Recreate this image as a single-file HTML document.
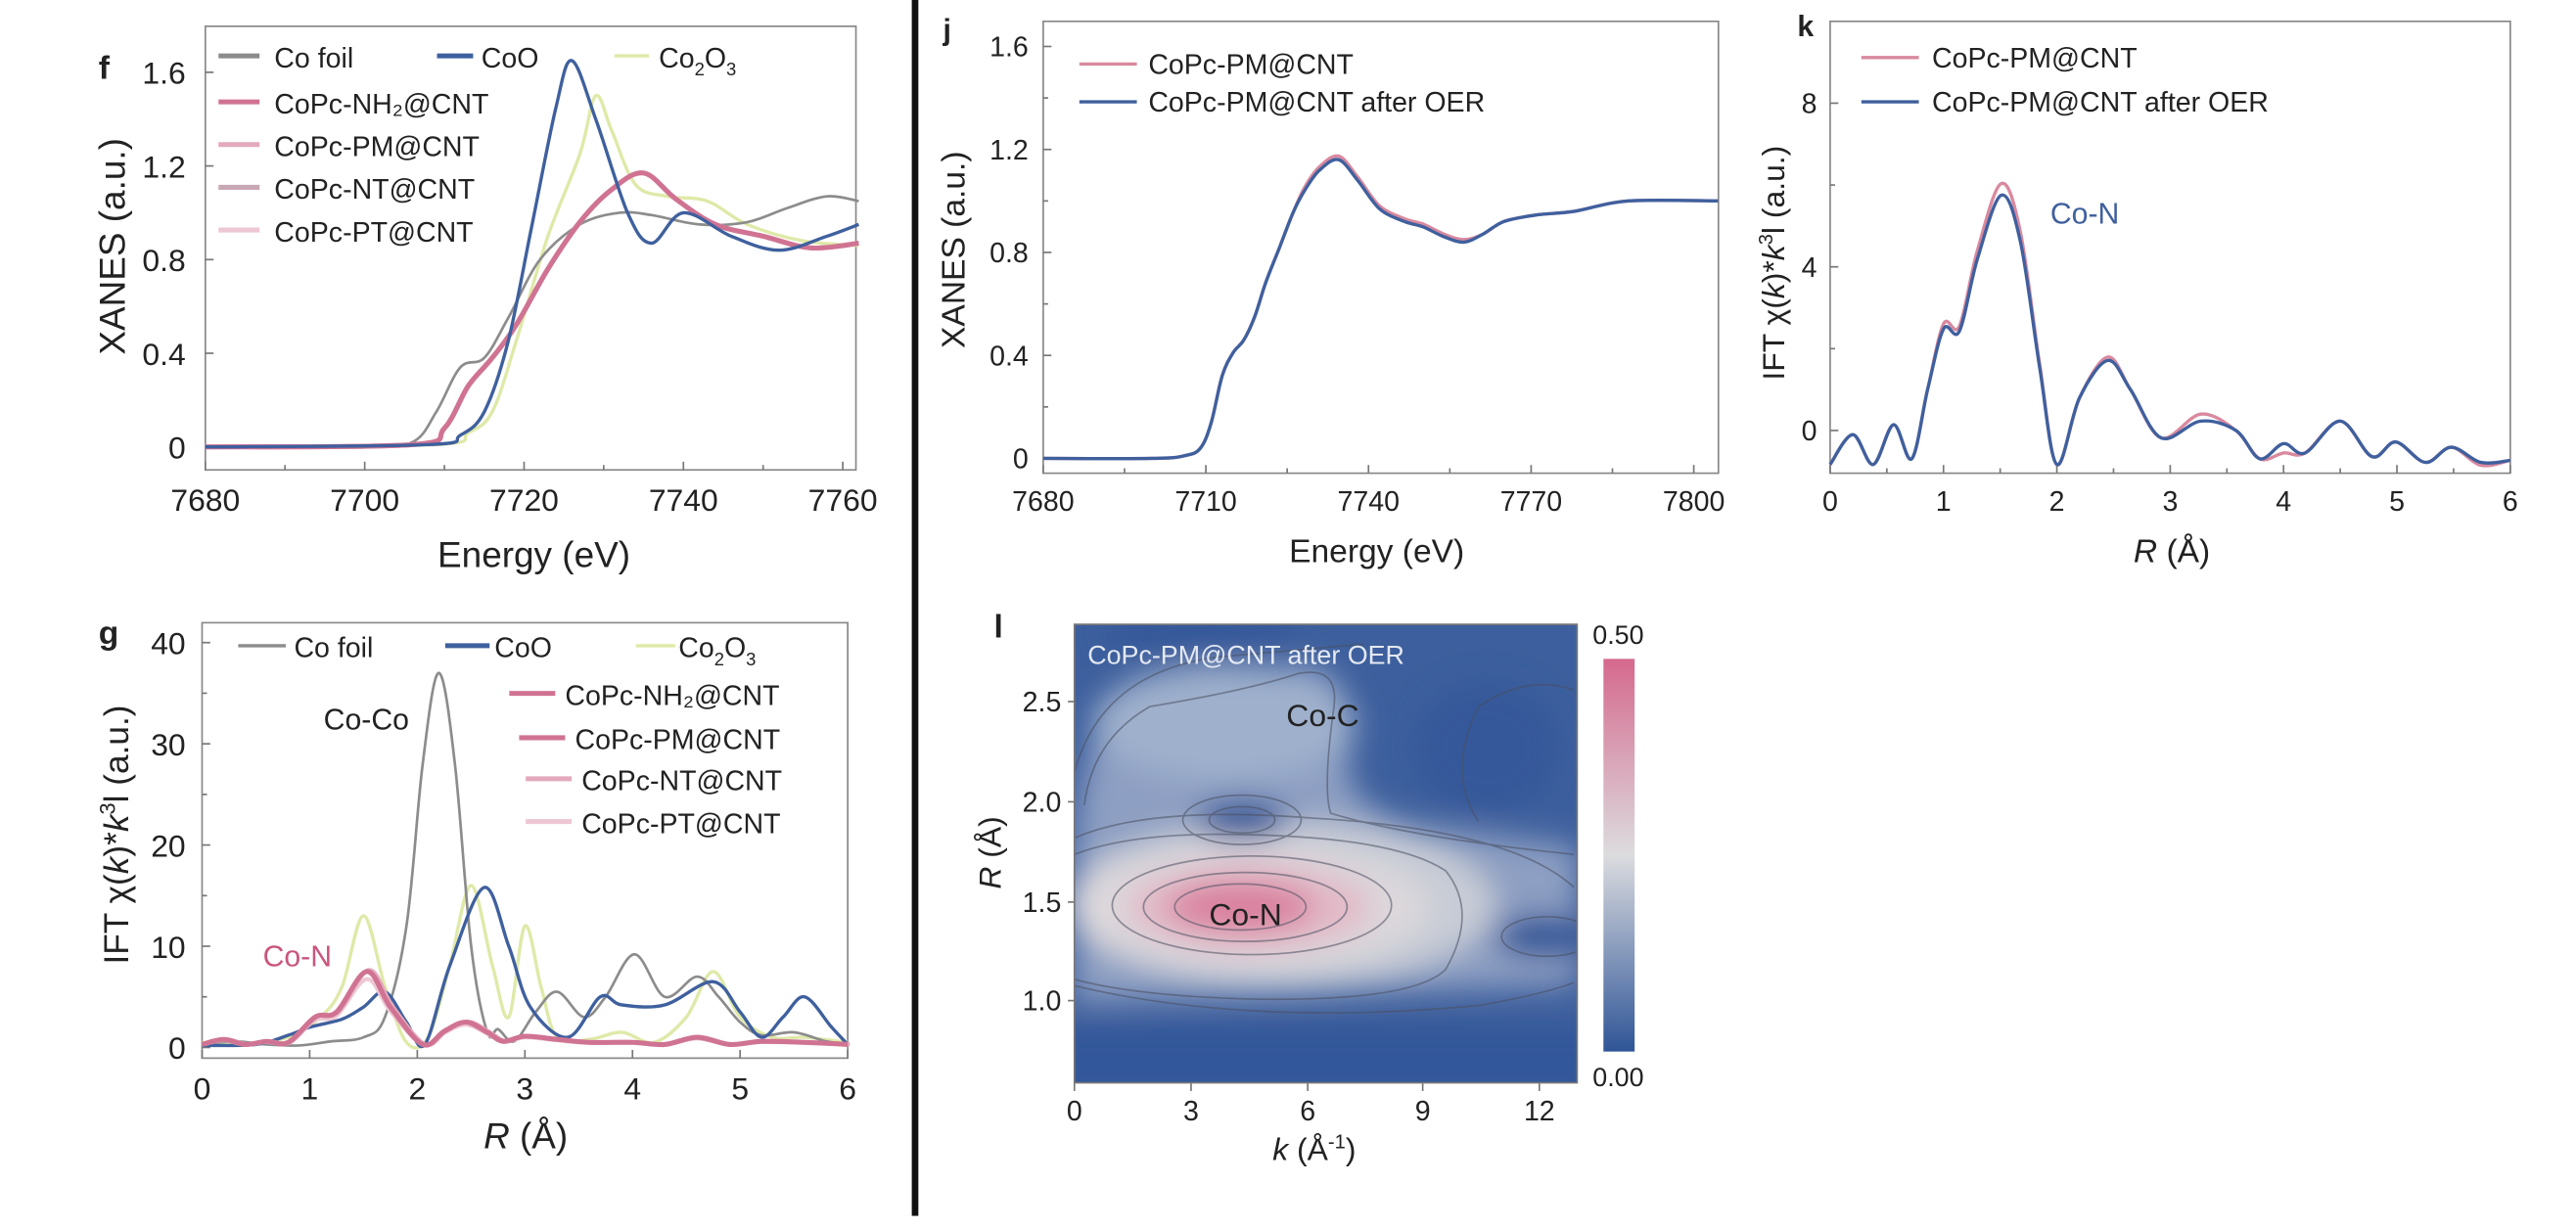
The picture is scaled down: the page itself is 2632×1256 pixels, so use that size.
<!DOCTYPE html>
<html><head><meta charset="utf-8">
<style>
html,body{margin:0;padding:0;background:#fff;}
svg{display:block;}
text{font-family:"Liberation Sans",sans-serif;fill:#222;}
</style></head>
<body>
<svg id="s" width="2632" height="1256" viewBox="0 0 1568 748" preserveAspectRatio="none" xmlns="http://www.w3.org/2000/svg">
<defs>
<filter id="bl" x="-20%" y="-20%" width="140%" height="140%"><feGaussianBlur stdDeviation="9"/></filter>
<clipPath id="cl"><rect x="654" y="380" width="306" height="279"/></clipPath>
<linearGradient id="cb" x1="0" y1="1" x2="0" y2="0">
<stop offset="0" stop-color="#2f5597"/><stop offset="0.5" stop-color="#dcdcdf"/><stop offset="1" stop-color="#d5698d"/>
</linearGradient>
</defs>
<rect width="1568" height="748" fill="#fff"/>
<rect x="555" y="0" width="4" height="740" fill="#111"/>

<g id="plots"></g>

<g clip-path="url(#cl)">
<rect x="654" y="380" width="306" height="279" fill="#3d5f9d"/>
<g filter="url(#bl)">
<path d="M654 520 Q660 420 700 410 L800 405 Q830 420 820 470 Q830 500 880 505 L960 515 L960 600 L654 610 Z" fill="#8d9fc2"/>
<ellipse cx="745" cy="440" rx="80" ry="35" fill="#9fb0cc"/>
<ellipse cx="780" cy="550" rx="130" ry="50" fill="#c8ccd6"/>
<ellipse cx="760" cy="552" rx="110" ry="38" fill="#dcd8dc"/>
<ellipse cx="760" cy="552" rx="75" ry="26" fill="#e2b9c7"/>
<ellipse cx="755" cy="552" rx="45" ry="16" fill="#d9809e"/>
<ellipse cx="756" cy="499" rx="28" ry="12" fill="#2f5597"/>
<ellipse cx="905" cy="455" rx="45" ry="40" fill="#34589a"/>
<ellipse cx="940" cy="570" rx="30" ry="13" fill="#2f5597"/>
<rect x="640" y="625" width="340" height="45" fill="#32579a"/>
<ellipse cx="730" cy="385" rx="60" ry="14" fill="#35599a"/>
</g>
<g fill="none" stroke="#4a4f60" stroke-width="1" opacity="0.55">
<ellipse cx="755" cy="552" rx="40" ry="14"/>
<ellipse cx="758" cy="552" rx="62" ry="21"/>
<ellipse cx="762" cy="551" rx="85" ry="30"/>
<path d="M654 520 Q690 506 760 508 Q850 510 880 530 Q900 555 880 590 Q860 610 760 608 Q690 606 654 596"/>
<path d="M654 510 Q700 490 800 498 Q920 505 958 540 M654 600 Q760 625 900 612 Q940 605 958 598"/>
<ellipse cx="756" cy="499" rx="36" ry="15"/>
<ellipse cx="756" cy="499" rx="20" ry="8"/>
<path d="M660 490 Q665 450 700 430 Q760 420 790 410 Q815 405 812 430 Q805 480 810 495 Q860 510 958 520"/>
<path d="M654 470 Q670 410 740 400 L830 392"/>
<path d="M900 500 Q880 470 900 430 Q930 410 958 420"/>
<ellipse cx="942" cy="570" rx="28" ry="12"/>
</g>
</g>
<rect x="654" y="380" width="306" height="279" fill="none" stroke="#777" stroke-width="1"/>
<text x="662" y="404" font-size="16" style="fill:#e4e9f3">CoPc-PM@CNT after OER</text>
<text x="783" y="442" font-size="19">Co-C</text>
<text x="736" y="563" font-size="19">Co-N</text>
<rect x="976" y="401" width="19" height="239" fill="url(#cb)"/>
<text x="985" y="392" font-size="16" text-anchor="middle">0.50</text>
<text x="985" y="661" font-size="16" text-anchor="middle">0.00</text>
<text x="605" y="388" font-size="20" font-weight="bold">l</text>
<g font-size="17" text-anchor="end">
<text x="646" y="433">2.5</text><text x="646" y="494">2.0</text><text x="646" y="555">1.5</text><text x="646" y="615">1.0</text>
</g>
<g stroke="#777" stroke-width="1">
<line x1="654" y1="427" x2="650" y2="427"/><line x1="654" y1="488" x2="650" y2="488"/><line x1="654" y1="549" x2="650" y2="549"/><line x1="654" y1="609" x2="650" y2="609"/>
<line x1="654" y1="659" x2="654" y2="664"/><line x1="725" y1="659" x2="725" y2="664"/><line x1="796" y1="659" x2="796" y2="664"/><line x1="866" y1="659" x2="866" y2="664"/><line x1="937" y1="659" x2="937" y2="664"/>
</g>
<g font-size="17" text-anchor="middle">
<text x="654" y="682">0</text><text x="725" y="682">3</text><text x="796" y="682">6</text><text x="866" y="682">9</text><text x="937" y="682">12</text>
</g>
<text x="800" y="706" font-size="19" text-anchor="middle"><tspan font-style="italic">k</tspan> (Å<tspan font-size="12" dy="-7">-1</tspan><tspan dy="7">)</tspan></text>
<text transform="translate(609,519) rotate(-90)" font-size="19" text-anchor="middle"><tspan font-style="italic">R</tspan> (Å)</text>
</svg>

<script>
(function(){
var NS="http://www.w3.org/2000/svg", G=document.getElementById("plots");
function el(t,a,txt){var e=document.createElementNS(NS,t);for(var k in a)e.setAttribute(k,a[k]);if(txt!==undefined)e.textContent=txt;G.appendChild(e);return e;}
function cr(pts){var d="M"+pts[0][0].toFixed(1)+" "+pts[0][1].toFixed(1);
 for(var i=0;i<pts.length-1;i++){var p0=pts[i-1]||pts[i],p1=pts[i],p2=pts[i+1],p3=pts[i+2]||p2;
 var c1=[p1[0]+(p2[0]-p0[0])/6,p1[1]+(p2[1]-p0[1])/6],c2=[p2[0]-(p3[0]-p1[0])/6,p2[1]-(p3[1]-p1[1])/6];
 d+="C"+c1[0].toFixed(1)+" "+c1[1].toFixed(1)+" "+c2[0].toFixed(1)+" "+c2[1].toFixed(1)+" "+p2[0].toFixed(1)+" "+p2[1].toFixed(1);}
 return d;}
function curve(data,fx,fy,col,w,op){var p=data.map(function(q){return [fx(q[0]),fy(q[1])];});
 el("path",{d:cr(p),fill:"none",stroke:col,"stroke-width":w,opacity:op||1,"stroke-linejoin":"round"});}
function txt(x,y,s,sz,extra){var a={x:x,y:y,"font-size":sz};for(var k in extra)a[k]=extra[k];return el("text",a,s);}
function line(x1,y1,x2,y2,c,w){el("line",{x1:x1,y1:y1,x2:x2,y2:y2,stroke:c,"stroke-width":w});}
var GR="#8c8c8c",BL="#3f609e",YG="#dfe9a8",PK="#d07393",PK2="#e3a9bd",PK3="#eec7d4";

/* ---------- Panel f ---------- */
var fx=function(E){return 125+(E-7680)*4.85;}, fy=function(v){return 272-v*142.5;};
el("rect",{x:125,y:16,width:396,height:270,fill:"none",stroke:"#888","stroke-width":1});
[0,0.4,0.8,1.2,1.6].forEach(function(v){line(125,fy(v),130,fy(v),"#777",1);txt(113,fy(v)+7,v===0?"0":v.toFixed(1),19,{"text-anchor":"end"});});
[7680,7700,7720,7740,7760].forEach(function(E){line(fx(E),286,fx(E),281,"#777",1);txt(fx(E),311,String(E),19,{"text-anchor":"middle"});});
[7690,7710,7730,7750].forEach(function(E){line(fx(E),286,fx(E),283,"#777",1);});
txt(325,345,"Energy (eV)",22,{"text-anchor":"middle"});
txt(0,0,"XANES (a.u.)",22,{"text-anchor":"middle",transform:"translate(76,150) rotate(-90)"});
txt(60,48,"f",20,{"font-weight":"bold"});
var foil=[[7680,0],[7700,0],[7706,0.02],[7709,0.15],[7712,0.34],[7715,0.38],[7718,0.55],[7722,0.8],[7727,0.95],[7732,1.0],[7736,0.99],[7742,0.95],[7748,0.96],[7753,1.02],[7758,1.07],[7762,1.05]];
var coo=[[7680,0],[7708,0.01],[7712,0.05],[7715,0.15],[7718,0.45],[7721,0.95],[7724,1.45],[7726,1.65],[7729,1.4],[7733,1.0],[7736,0.87],[7740,1.0],[7746,0.9],[7752,0.84],[7758,0.9],[7762,0.95]];
var c23=[[7680,0],[7709,0.01],[7713,0.06],[7716,0.15],[7719,0.45],[7723,0.9],[7727,1.25],[7729,1.5],[7731,1.35],[7734,1.12],[7738,1.07],[7743,1.05],[7748,0.95],[7755,0.88],[7762,0.86]];
var pc=[[7680,0],[7706,0.01],[7710,0.08],[7713,0.26],[7716,0.38],[7719,0.52],[7723,0.76],[7727,0.96],[7731,1.1],[7735,1.17],[7739,1.06],[7744,0.95],[7750,0.9],[7756,0.85],[7762,0.87]];
curve(c23,fx,fy,YG,2);curve(foil,fx,fy,GR,1.6);
curve(pc,fx,fy,PK3,3);curve(pc,fx,fy,PK2,3);curve(pc,fx,fy,PK,3);curve(coo,fx,fy,BL,2);
var lg=[[34,"Co foil",133,GR,167],[62,"CoPc-NH₂@CNT",133,PK,167],[88,"CoPc-PM@CNT",133,PK2,167],[114,"CoPc-NT@CNT",133,"#c8a8b4",167],[140,"CoPc-PT@CNT",133,PK3,167]];
lg.forEach(function(r){line(r[2],r[0],r[2]+25,r[0],r[3],3);txt(r[4],r[0]+7,r[1],17);});
line(266,34,288,34,BL,3);txt(293,41,"CoO",17);
line(374,34,395,34,YG,2);var t=txt(401,41,"Co",17);
t.innerHTML='Co<tspan font-size="11" dy="5">2</tspan><tspan dy="-5">O</tspan><tspan font-size="11" dy="5">3</tspan>';

/* ---------- Panel g ---------- */
var gx=function(R){return 123+R*65.5;}, gy=function(v){return 637.5-v*6.16;};
el("rect",{x:123,y:379,width:393,height:265,fill:"none",stroke:"#888","stroke-width":1});
[0,10,20,30,40].forEach(function(v){line(123,gy(v),128,gy(v),"#777",1);txt(113,gy(v)+7,String(v),19,{"text-anchor":"end"});});
[5,15,25,35].forEach(function(v){line(123,gy(v),126,gy(v),"#777",1);});
[0,1,2,3,4,5,6].forEach(function(R){line(gx(R),644,gx(R),639,"#777",1);txt(gx(R),669,String(R),19,{"text-anchor":"middle"});});
txt(320,699,"",22,{"text-anchor":"middle"}).innerHTML='<tspan font-style="italic">R</tspan> (Å)';
txt(0,0,"",21,{"text-anchor":"middle",transform:"translate(78,508) rotate(-90)"}).innerHTML='IFT χ(<tspan font-style="italic">k</tspan>)*<tspan font-style="italic">k</tspan><tspan font-size="13" dy="-8">3</tspan><tspan dy="8">l (a.u.)</tspan>';
txt(60,392,"g",20,{"font-weight":"bold"});
var gfoil=[[0,0.3],[0.3,0.6],[0.6,0.3],[0.9,0.2],[1.2,0.6],[1.5,1.0],[1.7,3],[1.9,12],[2.05,28],[2.2,37],[2.35,28],[2.5,10],[2.65,1.5],[2.75,1.8],[2.9,0.6],[3.1,3.5],[3.3,5.5],[3.55,3],[3.75,5],[4.02,9.2],[4.3,5],[4.6,7],[4.8,5],[5.0,2.5],[5.2,1.2],[5.5,1.5],[5.8,0.6],[6,0.3]];
var gcoo=[[0,0.2],[0.5,0.3],[0.8,1.2],[1.0,2],[1.3,2.8],[1.5,4],[1.7,5.5],[1.9,2.5],[2.07,0.3],[2.3,8],[2.62,15.8],[2.85,10],[3.05,4],[3.4,1],[3.7,5],[3.9,4.2],[4.3,4.2],[4.75,6.5],[5.0,3.5],[5.2,1],[5.4,3],[5.6,5],[5.85,2],[6,0.3]];
var gc23=[[0,0.5],[0.4,0.3],[0.8,1],[1.1,3],[1.3,6],[1.5,13],[1.7,6],[1.9,0.5],[2.1,1],[2.3,8],[2.5,16],[2.7,8],[2.85,3],[3.0,12],[3.15,6],[3.3,1],[3.6,0.8],[3.9,1.5],[4.2,0.5],[4.5,3],[4.75,7.5],[5.0,3],[5.3,1],[5.6,1],[6,0.5]];
var gpc=[[0,0.3],[0.2,0.8],[0.4,0.3],[0.6,0.6],[0.8,0.5],[1.05,3],[1.25,3.5],[1.53,7.5],[1.75,4],[2.05,0.3],[2.25,1.6],[2.45,2.5],[2.65,1.5],[2.8,0.6],[3.0,1.1],[3.3,0.8],[3.6,0.5],[4.0,0.5],[4.3,0.3],[4.6,1.0],[4.9,0.3],[5.2,0.6],[5.6,0.5],[6,0.3]];
curve(gc23,gx,gy,YG,2);curve(gfoil,gx,gy,GR,1.6);curve(gcoo,gx,gy,BL,2);
curve(gpc.map(function(q){return [q[0],q[1]*0.9];}),gx,gy,PK3,2.5);
curve(gpc.map(function(q){return [q[0]+0.02,q[1]*1.02];}),gx,gy,PK2,2.5);
curve(gpc,gx,gy,PK,3);
line(145,393,174,393,GR,2);txt(179,400,"Co foil",17);
line(271,393,298,393,BL,3);txt(301,400,"CoO",17);
line(387,393,411,393,YG,2);txt(413,400,"",17).innerHTML='Co<tspan font-size="11" dy="5">2</tspan><tspan dy="-5">O</tspan><tspan font-size="11" dy="5">3</tspan>';
[[422,"CoPc-NH₂@CNT",PK,310],[449,"CoPc-PM@CNT",PK,316],[474,"CoPc-NT@CNT",PK2,320],[500,"CoPc-PT@CNT",PK3,320]].forEach(function(r){line(r[3],r[0],r[3]+28,r[0],r[2],3);txt(r[3]+34,r[0]+7,r[1],17);});
txt(197,444,"Co-Co",18);
txt(160,588,"Co-N",18,{style:"fill:#c9557e"});

/* ---------- Panel j ---------- */
var jx=function(E){return 635+(E-7680)*3.3;}, jy=function(v){return 279-v*156.7;};
el("rect",{x:635,y:13,width:411,height:275,fill:"none",stroke:"#888","stroke-width":1});
[0,0.4,0.8,1.2,1.6].forEach(function(v){line(635,jy(v),640,jy(v),"#777",1);txt(626,jy(v)+6,v===0?"0":v.toFixed(1),17,{"text-anchor":"end"});});
[0.2,0.6,1.0,1.4].forEach(function(v){line(635,jy(v),638,jy(v),"#777",1);});
[7680,7710,7740,7770,7800].forEach(function(E){line(jx(E),288,jx(E),283,"#777",1);txt(jx(E),311,String(E),17,{"text-anchor":"middle"});});
[7695,7725,7755,7785].forEach(function(E){line(jx(E),288,jx(E),285,"#777",1);});
txt(838,342,"Energy (eV)",20,{"text-anchor":"middle"});
txt(0,0,"XANES (a.u.)",20,{"text-anchor":"middle",transform:"translate(587,152) rotate(-90)"});
txt(574,24,"j",18,{"font-weight":"bold"});
var jd=[[7680,0],[7700,0],[7706,0.01],[7709,0.04],[7711,0.14],[7713,0.32],[7715,0.41],[7717,0.46],[7719,0.55],[7721,0.68],[7723.6,0.82],[7726,0.95],[7728.2,1.04],[7731,1.12],[7734.5,1.16],[7738,1.08],[7742,0.97],[7746.6,0.92],[7750,0.9],[7754,0.86],[7757.6,0.84],[7761,0.87],[7765,0.92],[7770.8,0.945],[7778,0.96],[7788,1.0],[7804.5,1.0]];
curve(jd.map(function(q){return [q[0],q[0]>7726&&q[0]<7760?q[1]*1.012:q[1]];}),jx,jy,"#d9899f",2);
curve(jd,jx,jy,BL,2);
line(657,39,692,39,"#d9899f",2);txt(699,45,"CoPc-PM@CNT",17);
line(657,62,692,62,BL,2);txt(699,68,"CoPc-PM@CNT after OER",17);

/* ---------- Panel k ---------- */
var kx=function(R){return 1114+R*69;}, ky=function(v){return 262-v*24.9;};
el("rect",{x:1114,y:13,width:414,height:275,fill:"none",stroke:"#888","stroke-width":1});
[0,4,8].forEach(function(v){line(1114,ky(v),1119,ky(v),"#777",1);txt(1106,ky(v)+6,String(v),17,{"text-anchor":"end"});});
[2,6].forEach(function(v){line(1114,ky(v),1117,ky(v),"#777",1);});
[0,1,2,3,4,5,6].forEach(function(R){line(kx(R),288,kx(R),283,"#777",1);txt(kx(R),311,String(R),17,{"text-anchor":"middle"});});
[0.5,1.5,2.5,3.5,4.5,5.5].forEach(function(R){line(kx(R),288,kx(R),285,"#777",1);});
txt(1322,342,"",20,{"text-anchor":"middle"}).innerHTML='<tspan font-style="italic">R</tspan> (Å)';
txt(0,0,"",19,{"text-anchor":"middle",transform:"translate(1086,160) rotate(-90)"}).innerHTML='IFT χ(<tspan font-style="italic">k</tspan>)*<tspan font-style="italic">k</tspan><tspan font-size="12" dy="-7">3</tspan><tspan dy="7">l (a.u.)</tspan>';
txt(1094,22,"k",18,{"font-weight":"bold"});
var kd=[[0,-0.83],[0.2,-0.1],[0.38,-0.83],[0.56,0.14],[0.72,-0.69],[0.86,1.0],[1.0,2.48],[1.14,2.43],[1.3,4.2],[1.51,5.75],[1.68,4.6],[1.85,1.5],[2.0,-0.83],[2.2,0.8],[2.45,1.71],[2.65,1.0],[2.92,-0.18],[3.27,0.23],[3.58,0],[3.79,-0.69],[4.0,-0.32],[4.19,-0.55],[4.5,0.23],[4.78,-0.64],[4.99,-0.28],[5.25,-0.78],[5.48,-0.41],[5.74,-0.78],[6,-0.73]];
var kp=kd.map(function(q){var v=q[1];if(v>1)v=v*1.05;if(Math.abs(q[0]-3.27)<0.01)v=0.4;if(Math.abs(q[0]-4.0)<0.01)v=-0.55;if(Math.abs(q[0]-5.74)<0.01)v=-0.85;return [q[0],v];});
curve(kp,kx,ky,"#d9899f",2);
curve(kd,kx,ky,BL,2);
line(1133,35,1168,35,"#d9899f",2);txt(1176,41,"CoPc-PM@CNT",17);
line(1133,62,1168,62,BL,2);txt(1176,68,"CoPc-PM@CNT after OER",17);
txt(1248,136,"Co-N",18,{style:"fill:#3f609e"});
})();
</script>
</body></html>
